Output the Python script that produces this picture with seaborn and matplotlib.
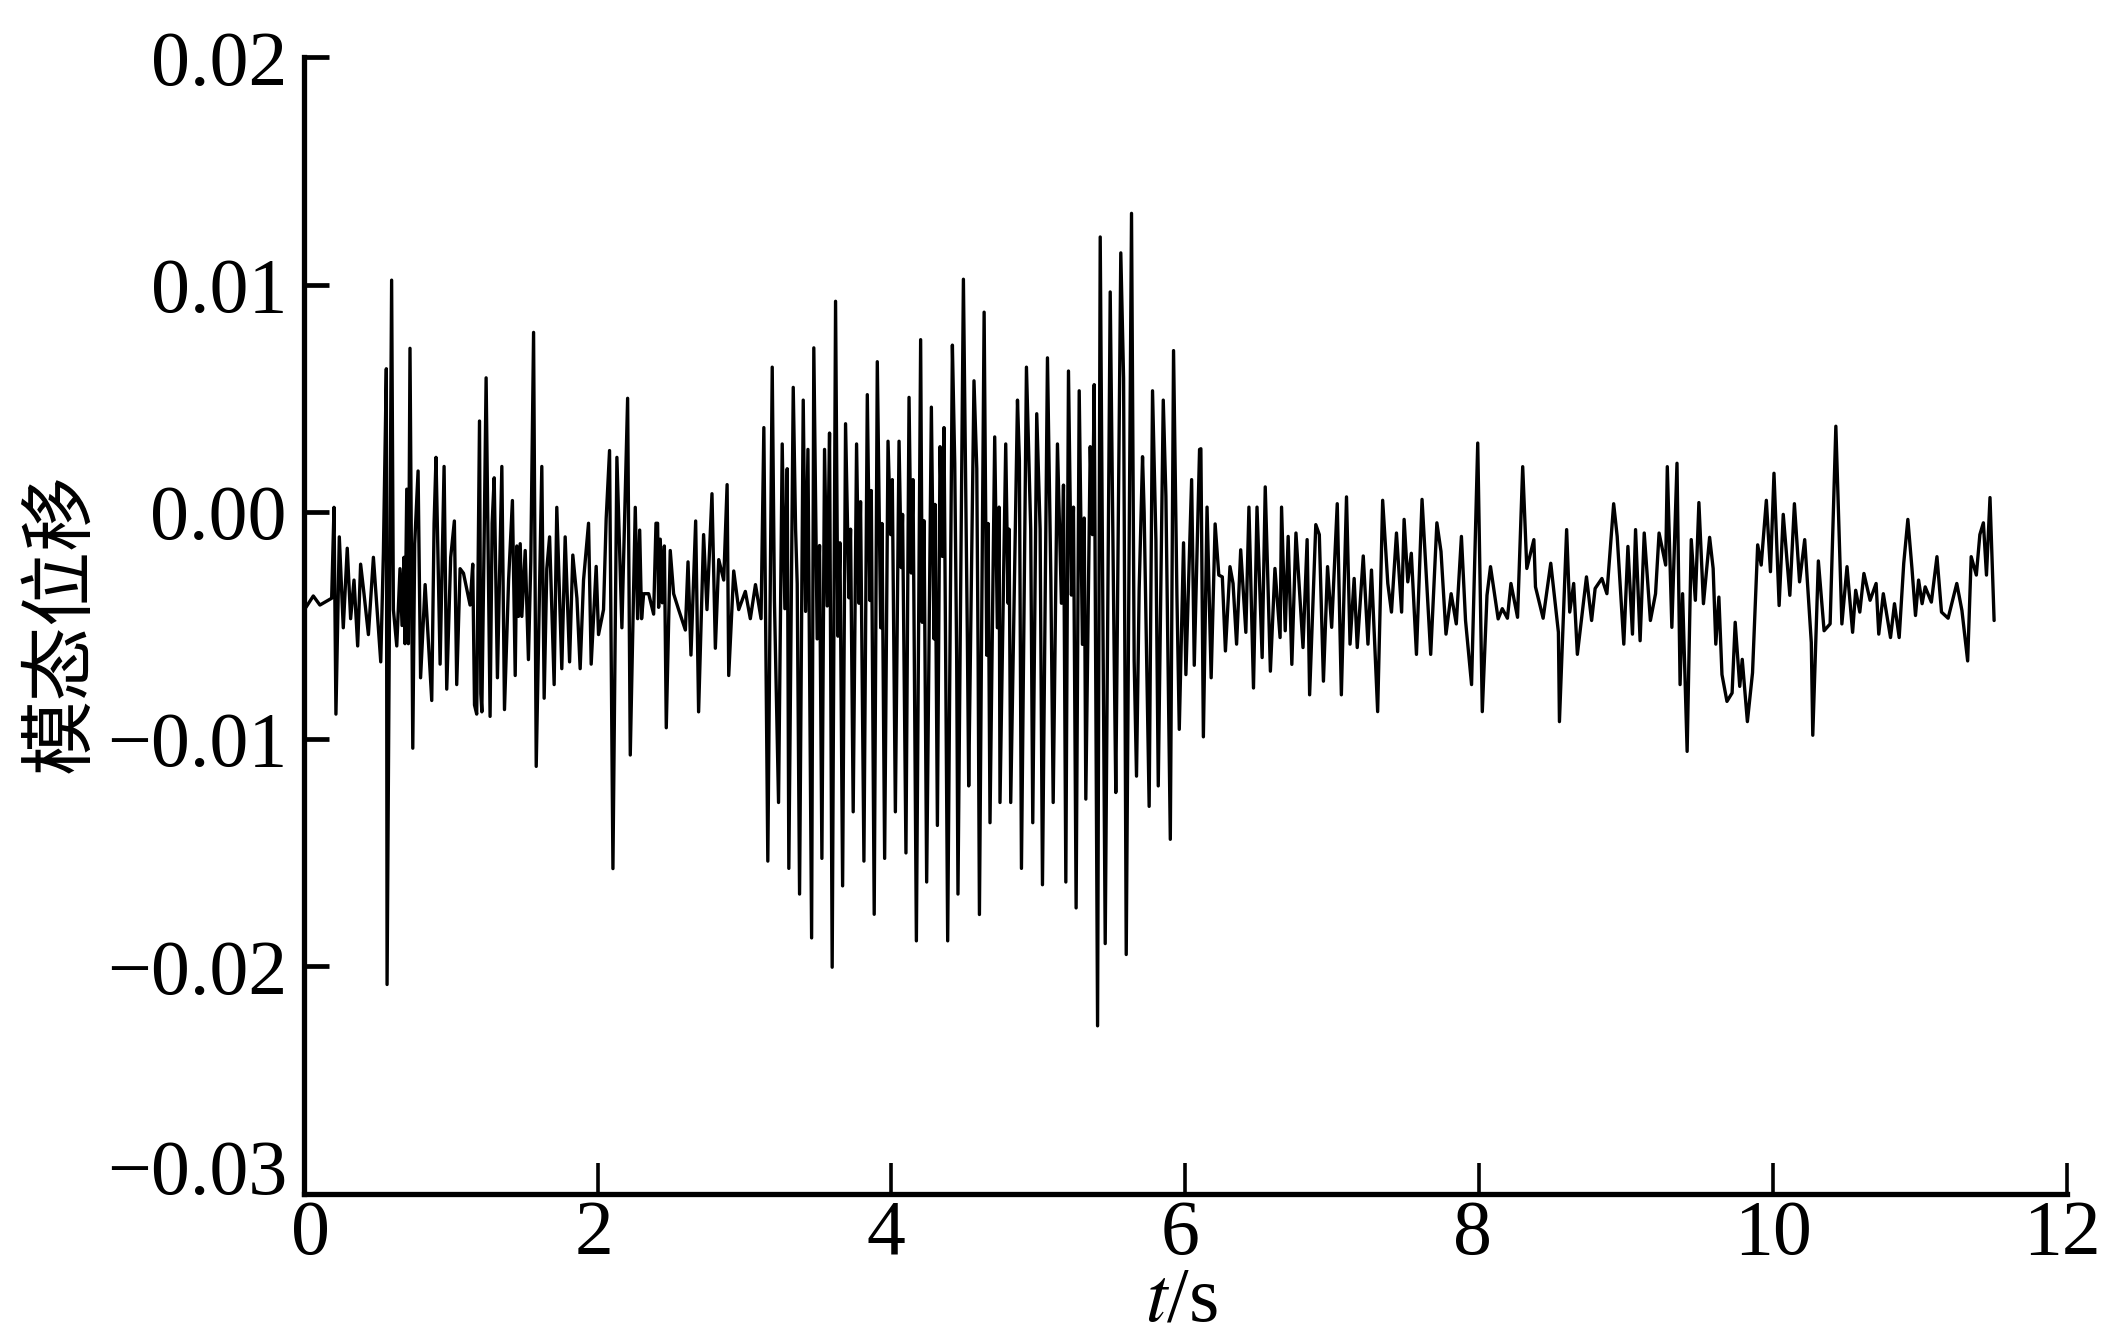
import numpy as np
import pandas as pd
import seaborn as sns
import matplotlib.pyplot as plt
from matplotlib.transforms import ScaledTranslation

# modal displacement, in units of 1e-4
t_a = [0.016, 0.066, 0.111, 0.191, 0.207, 0.220, 0.243, 0.270, 0.297, 0.320, 0.343, 0.368, 0.388, 0.411, 0.441, 0.475,
       0.525, 0.543, 0.563, 0.568, 0.599, 0.611, 0.634, 0.656, 0.670, 0.683, 0.690, 0.702, 0.713, 0.724, 0.743, 0.756,
       0.779, 0.796, 0.827, 0.872, 0.888, 0.901, 0.929, 0.956, 0.974, 1.001, 1.026, 1.042, 1.065, 1.088, 1.133, 1.151,
       1.163, 1.178, 1.190, 1.197, 1.206, 1.213, 1.229, 1.242, 1.269, 1.283, 1.297, 1.319, 1.349, 1.367, 1.395, 1.421,
       1.440, 1.451, 1.462, 1.474, 1.485, 1.508, 1.530, 1.546, 1.565, 1.583, 1.621, 1.637, 1.655, 1.674, 1.705, 1.723,
       1.757, 1.780, 1.810, 1.832, 1.860, 1.882, 1.905, 1.939, 1.957, 1.991, 2.007, 2.041, 2.059, 2.082, 2.105, 2.132,
       2.166, 2.205, 2.223, 2.257, 2.273, 2.287, 2.300, 2.314, 2.348, 2.382, 2.398, 2.409, 2.416, 2.427, 2.441, 2.455,
       2.468, 2.495, 2.518, 2.552, 2.598, 2.616, 2.636, 2.668, 2.688, 2.722, 2.745, 2.779, 2.802, 2.825, 2.859, 2.882,
       2.893, 2.927, 2.961, 3.006, 3.040, 3.075, 3.113]
v_a = [-42, -37, -41, -38, 2, -89, -11, -51, -16, -47, -30, -59, -23, -36, -54, -20,
       -66, -18, 63, -208, 102, -43, -59, -25, -50, -20, -58, 10, -58, 72, -104, -14,
       18, -73, -32, -83, -5, 24, -67, 20, -78, -20, -4, -76, -25, -27, -41, -23,
       -85, -89, -10, 40, -80, -88, -10, 59, -90, -5, 15, -73, 20, -87, -30, 5,
       -72, -15, -46, -14, -46, -17, -65, -22, 79, -112, 20, -82, -25, -11, -76, 2,
       -69, -11, -66, -19, -38, -69, -30, -5, -67, -24, -54, -43, -3, 27, -157, 24,
       -51, 50, -107, 2, -47, -8, -47, -36, -36, -45, -5, -5, -42, -12, -40, -15,
       -95, -17, -36, -43, -52, -22, -63, -4, -88, -10, -43, 8, -60, -21, -30, 12,
       -72, -26, -43, -35, -47, -32, -47]

t_b = [3.132, 3.159, 3.189, 3.204, 3.232, 3.257, 3.275, 3.291, 3.302, 3.332, 3.348, 3.359, 3.375, 3.400, 3.416, 3.432,
       3.457, 3.472, 3.495, 3.511, 3.527, 3.545, 3.563, 3.579, 3.597, 3.620, 3.636, 3.650, 3.668, 3.688, 3.711, 3.722,
       3.740, 3.763, 3.779, 3.790, 3.813, 3.836, 3.854, 3.863, 3.883, 3.904, 3.927, 3.936, 3.954, 3.977, 3.995, 4.006,
       4.027, 4.052, 4.067, 4.076, 4.099, 4.120, 4.135, 4.147, 4.170, 4.199, 4.210, 4.222, 4.240, 4.272, 4.290, 4.297,
       4.313, 4.331, 4.347, 4.358, 4.383, 4.415, 4.431, 4.444, 4.453, 4.490, 4.506, 4.517, 4.526, 4.562, 4.581, 4.590,
       4.599, 4.631, 4.649, 4.658, 4.671, 4.703, 4.721, 4.733, 4.739, 4.778, 4.794, 4.801, 4.812, 4.858, 4.871, 4.885,
       4.919, 4.948, 4.962, 4.989, 5.012, 5.028, 5.062, 5.085, 5.101, 5.130, 5.157, 5.171, 5.187, 5.205, 5.225, 5.239,
       5.257, 5.278, 5.300, 5.312, 5.323, 5.353, 5.368, 5.380, 5.403, 5.421, 5.455, 5.489, 5.516, 5.527, 5.561, 5.580,
       5.598, 5.634, 5.652, 5.668, 5.686, 5.709, 5.720, 5.754, 5.777, 5.800, 5.816, 5.850, 5.868, 5.898, 5.920, 5.943,
       5.959, 5.988, 6.004, 6.043, 6.061, 6.097]
v_b = [37.1, -153.7, 63.7, -39.0, -127.9, 29.9, -42.6, 19.0, -156.9, 54.8, -7.6, -31.7, -168.2, 49.2, -43.8, 27.5,
       -187.5, 72.2, -55.9, -14.8, -152.5, 27.5, -41.4, 34.7, -200.4, 92.7, -54.7, -13.6, -164.6, 38.8, -37.8, -7.6,
       -132.0, 29.9, -40.2, 4.5, -153.7, 51.6, -39.0, 9.4, -177.1, 66.1, -51.0, -5.1, -152.5, 31.1, -10.0, 14.2,
       -132.0, 31.1, -24.5, -1.1, -150.1, 50.4, -26.9, 14.2, -188.8, 75.8, -48.6, -3.9, -162.9, 46.1, -55.9, 3.3,
       -138.0, 28.7, -19.6, 37.1, -188.8, 73.4, 21.4, -63.1, -168.2, 102.4, 6.9, -55.9, -120.6, 57.7, 19.0, -63.1,
       -177.2, 87.9, -63.1, -5.1, -136.8, 33.0, -51.0, 2.1, -127.9, 29.9, -40.2, -7.6, -127.9, 49.2, 22.6, -156.9,
       63.7, -7.6, -136.8, 43.2, -7.6, -164.1, 67.8, -29.3, -127.9, 29.9, -40.2, 11.8, -162.9, 62.0, -36.6, 2.1,
       -174.3, 53.3, -58.3, -2.7, -126.4, 28.7, -10.0, 56.0, -226.2, 121.0, -190.0, 96.8, -63.1, -123.5, 114.0, 58.9,
       -194.8, 131.4, -65.5, -116.3, -34.1, 24.3, -0.3, -129.6, 53.3, -12.4, -120.6, 49.2, 6.9, -144.1, 71.0, -36.6,
       -95.7, -13.6, -71.6, 14.2, -67.5, 27.5]

t_c = [6.106, 6.123, 6.148, 6.176, 6.203, 6.228, 6.252, 6.273, 6.304, 6.325, 6.349, 6.377, 6.412, 6.433, 6.464, 6.488,
       6.523, 6.544, 6.579, 6.610, 6.645, 6.655, 6.680, 6.700, 6.725, 6.753, 6.801, 6.829, 6.846, 6.888, 6.912, 6.940,
       6.968, 6.996, 7.034, 7.062, 7.097, 7.121, 7.149, 7.170, 7.211, 7.243, 7.267, 7.309, 7.343, 7.378, 7.403, 7.437,
       7.472, 7.489, 7.514, 7.538, 7.573, 7.611, 7.670, 7.712, 7.740, 7.774, 7.809, 7.844, 7.879, 7.907, 7.948, 7.990,
       8.021, 8.053, 8.077, 8.129, 8.157, 8.192, 8.216, 8.261, 8.296, 8.324, 8.372, 8.383, 8.435, 8.487, 8.539, 8.546,
       8.595, 8.616, 8.643, 8.668, 8.730, 8.765, 8.789, 8.835, 8.869, 8.915, 8.939, 8.984, 9.012, 9.043, 9.064, 9.095,
       9.123, 9.165, 9.200, 9.224, 9.269, 9.280, 9.311, 9.346, 9.367, 9.384, 9.415, 9.443, 9.471, 9.495, 9.526, 9.568,
       9.592, 9.610, 9.631, 9.652, 9.686, 9.721, 9.742, 9.773, 9.790, 9.825, 9.860, 9.895, 9.919, 9.954, 9.982, 10.006,
       10.041, 10.069, 10.114, 10.145, 10.180, 10.215, 10.260, 10.270, 10.308, 10.347, 10.388, 10.427, 10.468, 10.503,
       10.541, 10.562, 10.590, 10.618, 10.660, 10.701, 10.719, 10.750, 10.799, 10.826, 10.858, 10.889, 10.917, 10.945,
       10.969, 10.990, 11.014, 11.035, 11.077, 11.115, 11.146, 11.191, 11.250, 11.285, 11.324, 11.348, 11.383, 11.407,
       11.431, 11.452, 11.476, 11.504]
v_c = [27.8, -99.0, 2.1, -73.0, -5.3, -27.8, -28.6, -61.2, -24.1, -31.5, -58.2, -16.7, -53.0, 2.1, -77.5, 2.1,
       -64.1, 11.0, -70.1, -24.9, -55.3, 2.1, -52.3, -10.8, -67.1, -9.3, -59.7, -12.2, -80.5, -5.6, -10.0, -74.5,
       -24.1, -50.8, 3.6, -80.5, 6.6, -58.2, -29.3, -59.7, -19.4, -58.2, -25.6, -87.9, 5.1, -31.5, -44.1, -9.3,
       -44.1, -3.3, -30.8, -18.2, -62.7, 5.5, -62.7, -4.8, -17.4, -53.8, -36.0, -49.3, -10.8, -47.8, -76.0, 30.3,
       -87.9, -36.7, -24.1, -47.1, -42.6, -46.8, -31.5, -46.4, 19.9, -24.9, -12.2, -33.0, -46.8, -22.6, -53.0, -92.3,
       -7.8, -44.1, -31.5, -62.7, -28.6, -47.8, -33.7, -29.3, -36.0, 3.6, -10.8, -58.2, -15.2, -53.8, -7.8, -56.7,
       -9.3, -47.8, -36.0, -9.3, -23.4, 19.9, -50.8, 21.4, -76.0, -36.0, -105.4, -12.2, -38.9, 4.1, -40.4, -11.2,
       -24.9, -58.2, -37.5, -71.6, -83.4, -79.7, -48.6, -76.8, -64.9, -92.3, -70.8, -14.5, -23.4, 5.1, -26.3, 17.0,
       -41.2, -1.1, -36.7, 3.6, -30.8, -12.2, -57.5, -98.3, -21.6, -52.3, -49.3, 37.7, -49.3, -24.1,
       -53.0, -34.5, -44.1, -27.1, -38.9, -31.5, -53.8, -36.0, -55.3, -40.4, -55.3, -22.6, -3.3, -24.9,
       -45.6, -30.0, -40.4, -33.0, -39.7, -19.7, -44.1, -46.8, -31.5, -43.4, -65.6, -19.7, -27.8, -10.0,
       -4.8, -27.8, 6.3, -47.8]

xticks = [0, 2, 4, 6, 8, 10, 12]
yticks = [0.02, 0.01, 0.00, -0.01, -0.02, -0.03]
ylabels = ["0.02", "0.01", "0.00", "\u22120.01", "\u22120.02", "\u22120.03"]

df = pd.DataFrame({
    "t": t_a + t_b + t_c,
    "v": np.array(v_a + v_b + v_c) * 1e-4,
})

sns.set_style("white", {"text.color": "black", "xtick.color": "black", "ytick.color": "black"})
plt.rcParams["font.family"] = ["Liberation Serif", "DejaVu Sans"]

W, H = 2102, 1337
fig = plt.figure(figsize=(W / 100, H / 100), dpi=100)
ax = fig.add_axes([303.6 / W, 1 - 1193.5 / H, (2067 - 303.6) / W, (1193.5 - 57.5) / H])

sns.lineplot(data=df, x="t", y="v", estimator=None, sort=False, color="black", linewidth=2.4, ax=ax)

ax.set_xlim(0, 12)
ax.set_ylim(-0.03, 0.02)
ax.set_xticks(xticks)
ax.set_yticks(yticks)
ax.set_yticklabels(ylabels)
ax.tick_params(axis="both", direction="in", labelsize=56, left=True, bottom=True)
ax.tick_params(axis="y", length=18, width=3.4, pad=12)
ax.tick_params(axis="x", length=22, width=2.6, pad=4)

sns.despine(ax=ax)
for side in ["left", "bottom"]:
    ax.spines[side].set_linewidth(3.8)
    ax.spines[side].set_color("black")

# lowest y label sits above its tick in the original
lab = ax.get_yticklabels()[-1]
lab.set_transform(lab.get_transform() + ScaledTranslation(0, 0.27, fig.dpi_scale_trans))

# x labels are slightly off their ticks in the original
for lab, dx in zip(ax.get_xticklabels(), [0.07, -0.04, -0.05, -0.05, -0.07, 0.0, -0.05]):
    lab.set_transform(lab.get_transform() + ScaledTranslation(dx, 0, fig.dpi_scale_trans))

ax.set_xlabel("")
ax.set_ylabel("")
fig.text(1181 / W, 1 - 1320 / H, r"$\mathit{t}$/s", fontsize=56, ha="center", va="baseline",
         math_fontfamily="stix")
fig.text(61 / W, 1 - 623 / H, "模态位移", fontsize=54, rotation=90, ha="center", va="center",
         family=["Noto Sans CJK SC", "DejaVu Sans"])

fig.savefig("out.png", dpi=100)
